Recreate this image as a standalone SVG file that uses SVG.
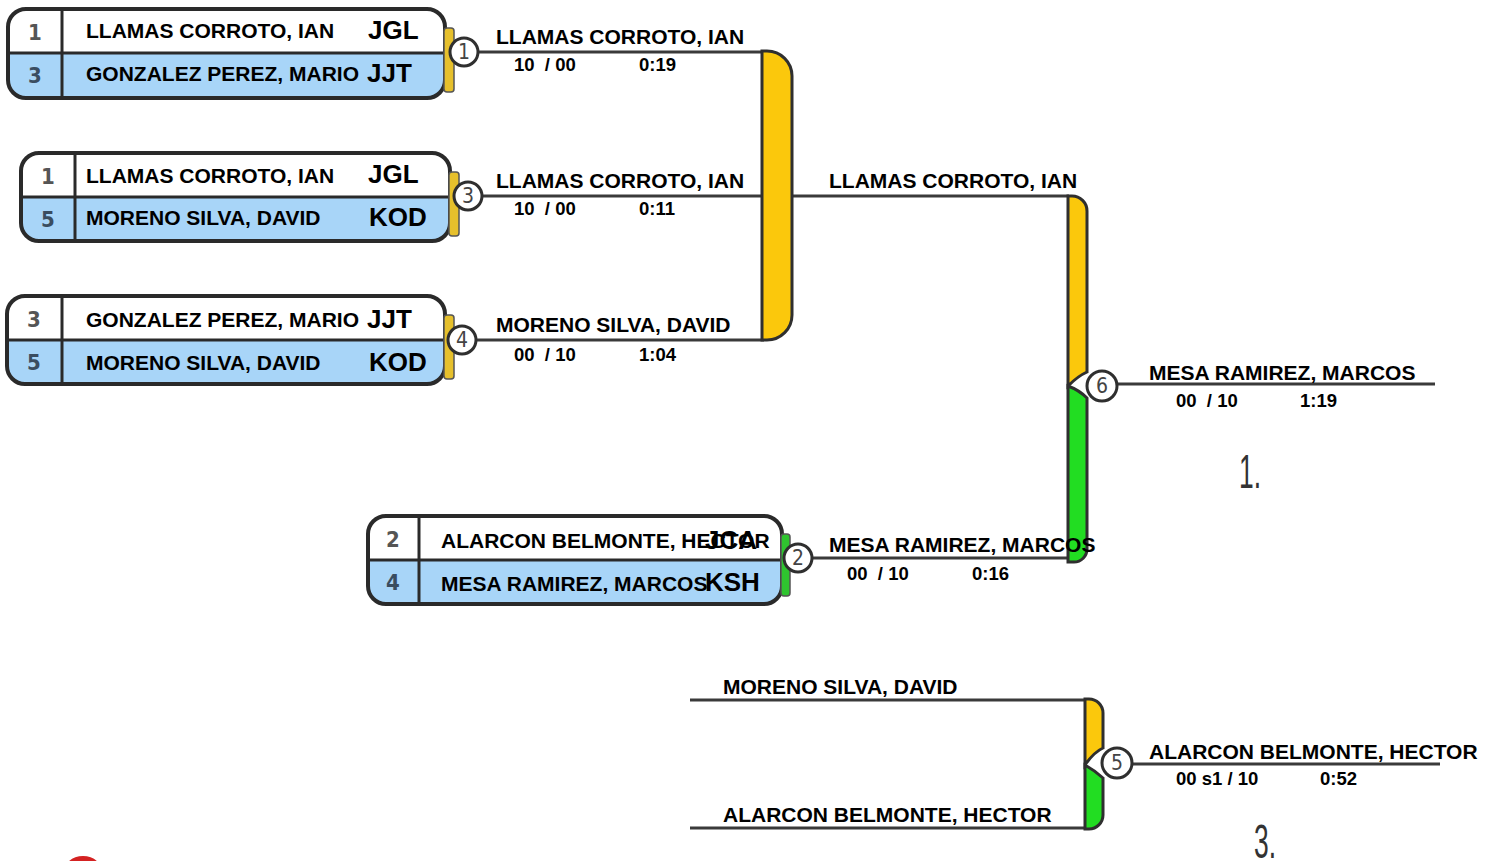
<svg xmlns="http://www.w3.org/2000/svg" width="1486" height="861" viewBox="0 0 1486 861">
<style>
.name{font-family:"Liberation Sans",Arial,sans-serif;font-weight:bold;font-size:21px;fill:#000}
.code{font-family:"Liberation Sans",Arial,sans-serif;font-weight:bold;font-size:26px;fill:#000}
.seed{font-family:"Liberation Sans Narrow","DejaVu Sans Condensed","Liberation Sans",sans-serif;font-weight:bold;font-size:22px;fill:#555;text-anchor:middle}
.seedb{fill:#3a4d60}
.score{font-family:"Liberation Sans",Arial,sans-serif;font-weight:bold;font-size:18.5px;fill:#000}
.lbl{font-family:"Liberation Sans",Arial,sans-serif;font-weight:bold;font-size:21px;fill:#000}
.cnum{font-family:"Liberation Sans Narrow","DejaVu Sans Condensed","Liberation Sans",sans-serif;font-size:21px;fill:#444;text-anchor:middle}
.place{font-family:"Liberation Sans","DejaVu Sans",sans-serif;font-size:48px;fill:#333}
.frame{fill:none;stroke:#2a2a2a;stroke-width:4}
.div{stroke:#2a2a2a;stroke-width:3}
.top{fill:#fff}
.bot{fill:#a8d5f8}
.tabY{fill:#e6c02c;stroke:#555;stroke-width:1.5}
.tabG{fill:#2fc42f;stroke:#555;stroke-width:1.5}
.circ{fill:#fff;stroke:#2f2f2f;stroke-width:3}
.wire{stroke:#3a3a3a;stroke-width:3;fill:none}
.brY{fill:#fbc80c;stroke:#2f2f2f;stroke-width:3}
.brG{fill:#22dd22;stroke:#2f2f2f;stroke-width:3}
</style>

<g id="connectors">
  <line class="wire" x1="478" y1="52" x2="764" y2="52"/>
  <line class="wire" x1="482" y1="196" x2="764" y2="196"/>
  <line class="wire" x1="477" y1="340" x2="764" y2="340"/>
  <line class="wire" x1="790" y1="196" x2="1069" y2="196"/>
  <line class="wire" x1="812" y1="558" x2="1069" y2="558"/>
  <line class="wire" x1="1116" y1="384" x2="1435" y2="384"/>
  <line class="wire" x1="690" y1="700" x2="1086" y2="700"/>
  <line class="wire" x1="690" y1="828" x2="1086" y2="828"/>
  <line class="wire" x1="1131" y1="764" x2="1440" y2="764"/>
  <path class="brY" d="M762,51 H767 A25,25 0 0 1 792,76 V315 A25,25 0 0 1 767,340 H762 Z"/>
  <path class="brY" d="M1068,196 H1072 A15,15 0 0 1 1087,211 V372 Q1078,376 1068,386 Z"/>
  <path class="brG" d="M1068,386 Q1079,390 1087,398 V549 A13,13 0 0 1 1074,562 H1068 Z"/>
  <path class="brY" d="M1085,699 H1089 A14,14 0 0 1 1103,713 V748 Q1094,752 1085,765 Z"/>
  <path class="brG" d="M1085,765 Q1094,770 1103,778 V815 A14,14 0 0 1 1089,829 H1085 Z"/>
</g>

<g id="match1">
  <rect class="bot" x="8" y="9" width="437" height="89" rx="18"/>
  <path class="top" d="M8,53 V27 A18,18 0 0 1 26,9 H427 A18,18 0 0 1 445,27 V53 Z"/>
  <rect class="frame" x="8" y="9" width="437" height="89" rx="18"/>
  <line class="div" x1="8" y1="53" x2="445" y2="53"/>
  <line class="div" x1="62" y1="9" x2="62" y2="98"/>
  <rect class="tabY" x="444" y="28" width="10" height="64" rx="3"/>
  <text class="seed" x="35" y="40">1</text>
  <text class="seed seedb" x="35" y="83">3</text>
  <text class="name" x="86" y="38">LLAMAS CORROTO, IAN</text>
  <text class="code" x="368" y="39">JGL</text>
  <text class="name" x="86" y="81">GONZALEZ PEREZ, MARIO</text>
  <text class="code" x="367" y="82">JJT</text>
  <circle class="circ" cx="464" cy="52" r="14"/>
  <text class="cnum" x="464" y="59">1</text>
  <text class="lbl" x="496" y="44">LLAMAS CORROTO, IAN</text>
  <text class="score" x="514" y="71" xml:space="preserve">10  / 00</text>
  <text class="score" x="639" y="71">0:19</text>
</g>

<g id="match3">
  <rect class="bot" x="21" y="153" width="429" height="88" rx="18"/>
  <path class="top" d="M21,197 V171 A18,18 0 0 1 39,153 H432 A18,18 0 0 1 450,171 V197 Z"/>
  <rect class="frame" x="21" y="153" width="429" height="88" rx="18"/>
  <line class="div" x1="21" y1="197" x2="450" y2="197"/>
  <line class="div" x1="75" y1="153" x2="75" y2="241"/>
  <rect class="tabY" x="449" y="172" width="10" height="64" rx="3"/>
  <text class="seed" x="48" y="184">1</text>
  <text class="seed seedb" x="48" y="227">5</text>
  <text class="name" x="86" y="183">LLAMAS CORROTO, IAN</text>
  <text class="code" x="368" y="183">JGL</text>
  <text class="name" x="86" y="225">MORENO SILVA, DAVID</text>
  <text class="code" x="369" y="226">KOD</text>
  <circle class="circ" cx="468" cy="196" r="14"/>
  <text class="cnum" x="468" y="203">3</text>
  <text class="lbl" x="496" y="188">LLAMAS CORROTO, IAN</text>
  <text class="score" x="514" y="215" xml:space="preserve">10  / 00</text>
  <text class="score" x="639" y="215">0:11</text>
</g>

<g id="match4">
  <rect class="bot" x="7" y="296" width="438" height="88" rx="18"/>
  <path class="top" d="M7,340 V314 A18,18 0 0 1 25,296 H427 A18,18 0 0 1 445,314 V340 Z"/>
  <rect class="frame" x="7" y="296" width="438" height="88" rx="18"/>
  <line class="div" x1="7" y1="340" x2="445" y2="340"/>
  <line class="div" x1="62" y1="296" x2="62" y2="384"/>
  <rect class="tabY" x="444" y="315" width="10" height="64" rx="3"/>
  <text class="seed" x="34" y="327">3</text>
  <text class="seed seedb" x="34" y="370">5</text>
  <text class="name" x="86" y="327">GONZALEZ PEREZ, MARIO</text>
  <text class="code" x="367" y="328">JJT</text>
  <text class="name" x="86" y="370">MORENO SILVA, DAVID</text>
  <text class="code" x="369" y="371">KOD</text>
  <circle class="circ" cx="462" cy="340" r="14"/>
  <text class="cnum" x="462" y="347">4</text>
  <text class="lbl" x="496" y="332">MORENO SILVA, DAVID</text>
  <text class="score" x="514" y="361" xml:space="preserve">00  / 10</text>
  <text class="score" x="639" y="361">1:04</text>
</g>

<g id="match2">
  <rect class="bot" x="368" y="516" width="414" height="88" rx="18"/>
  <path class="top" d="M368,560 V534 A18,18 0 0 1 386,516 H764 A18,18 0 0 1 782,534 V560 Z"/>
  <rect class="frame" x="368" y="516" width="414" height="88" rx="18"/>
  <line class="div" x1="368" y1="560" x2="782" y2="560"/>
  <line class="div" x1="419" y1="516" x2="419" y2="604"/>
  <rect class="tabG" x="781" y="534" width="9" height="62" rx="3"/>
  <text class="seed" x="393" y="547">2</text>
  <text class="seed seedb" x="393" y="590">4</text>
  <text class="name" x="441" y="548">ALARCON BELMONTE, HECTOR</text>
  <text class="code" x="705" y="549">JCA</text>
  <text class="name" x="441" y="591">MESA RAMIREZ, MARCOS</text>
  <text class="code" x="705" y="591">KSH</text>
  <circle class="circ" cx="798" cy="558" r="14"/>
  <text class="cnum" x="798" y="565">2</text>
  <text class="lbl" x="829" y="552">MESA RAMIREZ, MARCOS</text>
  <text class="score" x="847" y="580" xml:space="preserve">00  / 10</text>
  <text class="score" x="972" y="580">0:16</text>
</g>

<g id="semifinal">
  <text class="lbl" x="829" y="188">LLAMAS CORROTO, IAN</text>
</g>

<g id="match6">
  <circle class="circ" cx="1102" cy="386" r="15"/>
  <text class="cnum" x="1102" y="393">6</text>
  <text class="lbl" x="1149" y="380">MESA RAMIREZ, MARCOS</text>
  <text class="score" x="1176" y="407" xml:space="preserve">00  / 10</text>
  <text class="score" x="1300" y="407">1:19</text>
  <text class="place" transform="translate(1239,488) scale(0.55,1)">1.</text>
</g>

<g id="match5">
  <text class="lbl" x="723" y="694">MORENO SILVA, DAVID</text>
  <text class="lbl" x="723" y="822">ALARCON BELMONTE, HECTOR</text>
  <circle class="circ" cx="1117" cy="763" r="15"/>
  <text class="cnum" x="1117" y="770">5</text>
  <text class="lbl" x="1149" y="759">ALARCON BELMONTE, HECTOR</text>
  <text class="score" x="1176" y="785">00 s1 / 10</text>
  <text class="score" x="1320" y="785">0:52</text>
  <text class="place" transform="translate(1254,858) scale(0.55,1)">3.</text>
</g>

<ellipse cx="83" cy="874" rx="20" ry="18" fill="#d42222"/>
</svg>
